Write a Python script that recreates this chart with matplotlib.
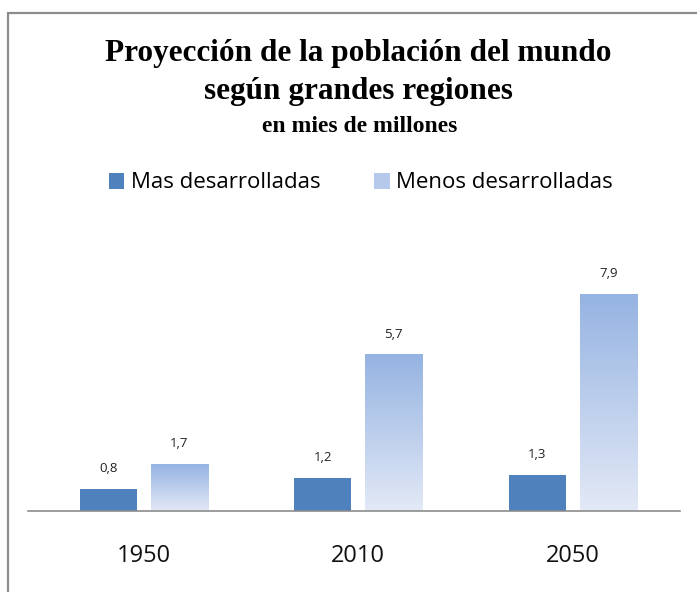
import numpy as np
import matplotlib.pyplot as plt
from matplotlib.patches import Patch, Rectangle

# datos
anios = ['1950', '2010', '2050']
mas_desarrolladas = [0.8, 1.2, 1.3]
menos_desarrolladas = [1.7, 5.7, 7.9]
series = ['Mas desarrolladas', 'Menos desarrolladas']

color_oscuro = '#4F81BD'
grad_top = np.array([0x95, 0xB3, 0xE2]) / 255
grad_bot = np.array([0xE3, 0xE9, 0xF6]) / 255

fig = plt.figure(figsize=(6.97, 5.92), dpi=100)
fig.patch.set_facecolor('white')

# marco gris del grafico
fig.patches.append(Rectangle((8 / 697, -0.05), 1.0, 1 - 13 / 592 + 0.05,
                             transform=fig.transFigure, fill=False,
                             edgecolor='#8C8C8C', linewidth=1.6))

ax = fig.add_axes([28 / 697, 81 / 592, 652 / 697, 261 / 592])
x = np.arange(len(anios))
ancho = 0.266
desp = 0.166

b1 = ax.bar(x - desp, mas_desarrolladas, ancho, color=color_oscuro, zorder=2)
b2 = ax.bar(x + desp, menos_desarrolladas, ancho, color='none', zorder=2)

# degradado vertical en cada barra clara
grad = np.linspace(0, 1, 256)[:, None]
img = grad_bot + (grad_top - grad_bot) * grad[:, :, None]
for p in b2:
    x0, y0 = p.get_x(), p.get_y()
    w, h = p.get_width(), p.get_height()
    im = ax.imshow(img, extent=[x0, x0 + w, y0, y0 + h], origin='lower',
                   aspect='auto', zorder=2, interpolation='bilinear')
    im.set_clip_path(p)

for barras, vals in [(b1, mas_desarrolladas), (b2, menos_desarrolladas)]:
    for p, v in zip(barras, vals):
        ax.annotate(f'{v:.1f}'.replace('.', ','),
                    (p.get_x() + p.get_width() / 2, p.get_height()),
                    xytext=(0, 10), textcoords='offset points',
                    ha='center', va='bottom', fontsize=9.5, color='#222222',
                    family='Open Sans')

ax.set_xlim(-0.54, 2.5)
ax.set_ylim(0, 9.5)
ax.set_xticks(x)
ax.set_xticklabels(anios, fontsize=17, family='Open Sans', color='#111111')
ax.tick_params(axis='x', length=0, pad=24)
ax.set_yticks([])
for s in ['top', 'right', 'left']:
    ax.spines[s].set_visible(False)
ax.spines['bottom'].set_color('#8C8C8C')
ax.spines['bottom'].set_linewidth(1.2)

# titulo
fig.text(358 / 697, 1 - 53 / 592, 'Proyección de la población del mundo',
         ha='center', va='center', fontsize=22.5, fontweight='bold',
         family='Liberation Serif')
fig.text(358 / 697, 1 - 91 / 592, 'según grandes regiones',
         ha='center', va='center', fontsize=22.5, fontweight='bold',
         family='Liberation Serif')
fig.text(360 / 697, 1 - 126 / 592, 'en mies de millones',
         ha='center', va='center', fontsize=17, fontweight='bold',
         family='Liberation Serif')

handles = [Patch(facecolor=color_oscuro, edgecolor='none'),
           Patch(facecolor='#B6C9EB', edgecolor='none')]
fig.legend(handles, series, loc='center', bbox_to_anchor=(361 / 697, 1 - 183 / 592),
           ncol=2, frameon=False, prop={'family': 'Open Sans', 'size': 16},
           handlelength=0.7, handleheight=0.7, handletextpad=0.3,
           columnspacing=2.4)

fig.savefig('out.png', dpi=100)
